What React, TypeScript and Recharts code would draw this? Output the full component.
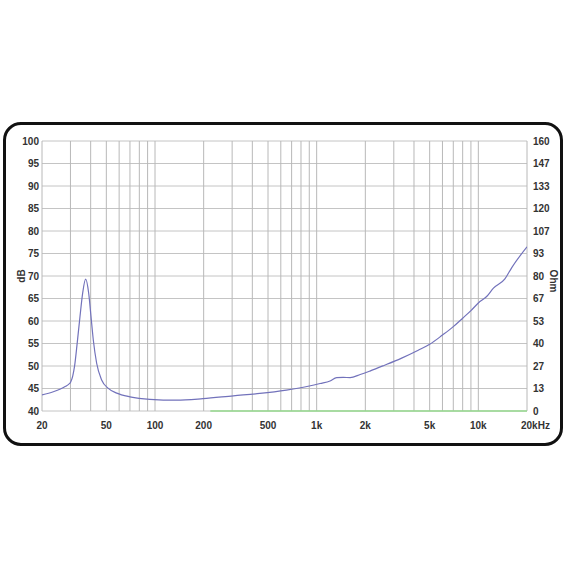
import React from "react";
import { LineChart, Line, XAxis, YAxis, ReferenceLine } from "recharts";

// Impedance curve (Ohm, right axis)
const impFreq = [20, 23.5, 26, 28, 29.2, 30.1, 31, 31.85, 33.08, 34.36, 35.69, 37.25, 38.87, 40.19, 41.53, 43.56, 46.77, 51.43, 58, 70, 93, 136, 198, 305, 445, 650, 900, 1050, 1210, 1330, 1460, 1610, 1860, 2150, 2610, 3330, 4250, 5000, 6000, 7000, 8000, 9000, 10000, 11300, 12400, 14600, 16100, 20000];
const impOhm = [9.6, 11.4, 13.0, 14.6, 15.8, 17.2, 20.8, 27.0, 41.0, 56.0, 69.9, 78.1, 69.9, 56.0, 42.1, 28.3, 18.4, 13.4, 10.6, 8.4, 6.9, 6.4, 7.3, 9.0, 10.4, 12.4, 14.8, 16.3, 17.8, 19.8, 19.9, 19.8, 21.6, 23.8, 27.0, 31.2, 36.0, 39.5, 45.0, 50.0, 55.0, 59.5, 64.0, 68.0, 72.8, 78.3, 85.0, 97.3];

// SPL curve (dB, left axis) – sits on the floor of the chart
const splFreq = [220, 20000];
const splDb = [40, 40];

// Axes
const xTicks = [20, 50, 100, 200, 500, 1000, 2000, 5000, 10000, 20000];
const xTickLabels = ["20", "50", "100", "200", "500", "1k", "2k", "5k", "10k", "20kHz"];
const gridFreqs = [20, 30, 40, 50, 60, 70, 80, 90, 100, 200, 300, 400, 500, 600, 700, 800, 900, 1000, 2000, 3000, 4000, 5000, 6000, 7000, 8000, 9000, 10000, 20000];
const dbTicks = [40, 45, 50, 55, 60, 65, 70, 75, 80, 85, 90, 95, 100];
const ohmTickLabels = ["0", "13", "27", "40", "53", "67", "80", "93", "107", "120", "133", "147", "160"];

const impData = impFreq.map((f, i) => ({ f, ohm: impOhm[i] }));
const splData = splFreq.map((f, i) => ({ f, db: splDb[i] }));
const ohmTickPos = ohmTickLabels.map((_, i) => (i * 160) / (ohmTickLabels.length - 1));

const FONT = "'Liberation Sans', Arial, sans-serif";
const tickStyle = { fontSize: 10, fontWeight: "bold" as const, fill: "#333", fontFamily: FONT };

const XTick = (props: any) => {
  const { x, y, payload } = props;
  const idx = xTicks.indexOf(payload.value);
  const label = idx >= 0 ? xTickLabels[idx] : String(payload.value);
  const last = payload.value === 20000;
  return (
    <text
      x={last ? x - 6 : x}
      y={y}
      dy="0.71em"
      textAnchor={last ? "start" : "middle"}
      {...tickStyle}
    >
      {label}
    </text>
  );
};

export default function App() {
  return (
    <div style={{ position: "absolute", left: 0, top: 0, width: 566, height: 566, background: "#fff" }}>
      <div
        style={{
          position: "absolute",
          left: 3,
          top: 122,
          width: 560,
          height: 324,
          border: "3px solid #111",
          borderRadius: 18,
          boxSizing: "border-box",
        }}
      />
      <div style={{ position: "absolute", left: 0, top: 0 }}>
        <LineChart width={566} height={566} margin={{ top: 141, right: 0, bottom: 125, left: 0 }}>
          <XAxis
            dataKey="f"
            type="number"
            scale="log"
            domain={[20, 20000]}
            ticks={xTicks}
            allowDataOverflow
            axisLine={false}
            tickLine={false}
            tickSize={0}
            tickMargin={11}
            height={30}
            tick={<XTick />}
            interval={0}
          />
          <YAxis
            yAxisId="db"
            orientation="left"
            type="number"
            domain={[40, 100]}
            ticks={dbTicks}
            width={42}
            axisLine={false}
            tickLine={false}
            tickSize={0}
            tickMargin={3}
            tick={tickStyle}
            interval={0}
          />
          <YAxis
            yAxisId="ohm"
            orientation="right"
            type="number"
            domain={[0, 160]}
            ticks={ohmTickPos}
            tickFormatter={(v: number) => ohmTickLabels[Math.round((v * 12) / 160)]}
            width={39}
            axisLine={false}
            tickLine={false}
            tickSize={0}
            tickMargin={6}
            tick={tickStyle}
            interval={0}
          />
          {dbTicks.map((d) => (
            <ReferenceLine key={"h" + d} yAxisId="db" y={d} stroke="#c4c4c4" strokeWidth={1} />
          ))}
          {gridFreqs.map((f) => (
            <ReferenceLine key={"v" + f} yAxisId="db" x={f} stroke="#b8b8b8" strokeWidth={1} />
          ))}
          <Line
            data={splData}
            yAxisId="db"
            dataKey="db"
            type="linear"
            stroke="#94d98c"
            strokeWidth={1.5}
            dot={false}
            isAnimationActive={false}
          />
          <Line
            data={impData}
            yAxisId="ohm"
            dataKey="ohm"
            type="monotone"
            stroke="#7272bb"
            strokeWidth={1.2}
            dot={false}
            isAnimationActive={false}
          />
        </LineChart>
      </div>
      <svg width={566} height={566} style={{ position: "absolute", left: 0, top: 0, pointerEvents: "none" }}>
        <text x={21} y={276} transform="rotate(-90 21 276)" textAnchor="middle" dy="0.35em" {...tickStyle}>
          dB
        </text>
        <text x={553} y={281} transform="rotate(90 553 281)" textAnchor="middle" dy="0.35em" {...tickStyle}>
          Ohm
        </text>
      </svg>
    </div>
  );
}
